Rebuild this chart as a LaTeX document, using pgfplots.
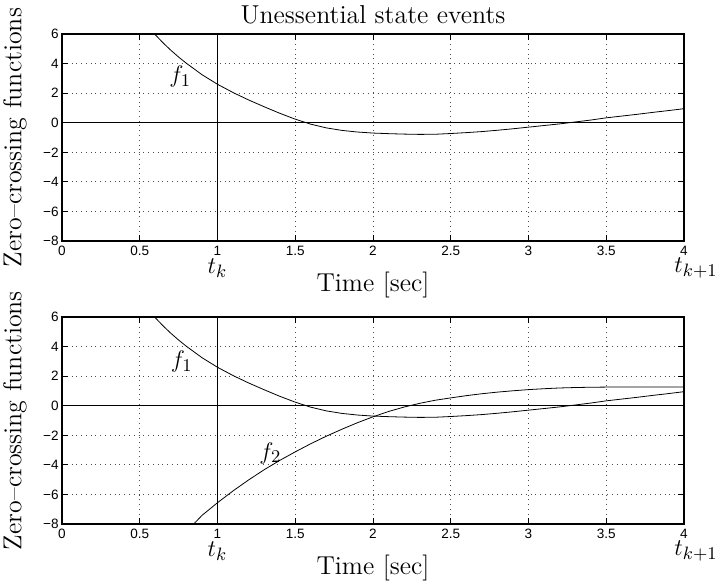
\documentclass[border=0pt]{standalone}
\usepackage{fontspec}
\usepackage{pgfplots}
\pgfplotsset{compat=1.18}
\newfontfamily\helv{Liberation Sans}
\newcommand\lab{\fontsize{13}{15}\selectfont}

\pgfplotstableread{
x y
0.58 6.20
0.60 5.95
0.65 5.40
0.70 4.90
0.75 4.44
0.80 4.02
0.90 3.25
1.00 2.60
1.10 2.04
1.20 1.54
1.30 1.08
1.40 0.64
1.50 0.24
1.60 -0.10
1.70 -0.35
1.80 -0.52
1.90 -0.63
2.00 -0.70
2.10 -0.74
2.20 -0.77
2.30 -0.79
2.40 -0.78
2.50 -0.73
2.60 -0.67
2.70 -0.60
2.80 -0.51
2.90 -0.41
3.00 -0.30
3.10 -0.19
3.20 -0.08
3.30 0.05
3.40 0.18
3.50 0.33
3.60 0.45
3.70 0.57
3.80 0.70
3.90 0.82
4.00 0.95
}\fone

\pgfplotstableread{
x y
0.84 -8.08
0.90 -7.42
1.00 -6.56
1.10 -5.76
1.20 -5.02
1.30 -4.33
1.40 -3.70
1.50 -3.12
1.60 -2.57
1.70 -2.06
1.80 -1.59
1.90 -1.15
2.00 -0.75
2.10 -0.39
2.20 -0.09
2.30 0.16
2.40 0.37
2.50 0.53
2.60 0.68
2.70 0.81
2.80 0.92
2.90 1.01
3.00 1.09
3.10 1.15
3.20 1.20
3.30 1.23
3.40 1.25
3.50 1.26
3.60 1.27
3.80 1.27
4.00 1.27
}\ftwo

\pgfplotsset{
  mystyle/.style={
    scale only axis, width=311bp, height=103.5bp,
    xmin=0, xmax=4, ymin=-8, ymax=6,
    xtick={0,0.5,1,1.5,2,2.5,3,3.5,4},
    ytick={-8,-6,-4,-2,0,2,4,6},
    xticklabels={0,0.5,1,1.5,2,2.5,3,3.5,4},
    yticklabels={−8,−6,−4,−2,0,2,4,6},
    tick align=inside, major tick length=3bp,
    xtick pos=both, ytick pos=both,
    tick style={black, line width=0.5bp},
    tick label style={font=\helv\fontsize{6.8}{8}\selectfont, inner sep=1.5bp},
    xticklabel style={yshift=-1bp},
    grid=major, grid style={dotted, black!70, line width=0.45bp},
    axis line style={line width=0.7bp},
    cycle list={{black, no markers, smooth, line width=0.55bp}},
    clip mode=individual,
  }
}

\begin{document}
\begin{tikzpicture}
\useasboundingbox (-31bp,17bp) rectangle (326.5bp,-274.5bp);
\begin{axis}[mystyle, at={(0,0)}, anchor=north west]
\addplot table[x=x,y=y] {\fone};
\addplot[black, line width=0.55bp] coordinates {(0,0) (4,0)};
\addplot[black, line width=0.55bp] coordinates {(1,-8) (1,6)};
\node at (axis cs:0.76,3.1) {\lab $f_1$};
\node at ([yshift=9.5bp]rel axis cs:0.5,1) {\lab Unessential state events};
\node[rotate=90] at ([xshift=-23.5bp]rel axis cs:0,0.5) {\lab Zero--crossing functions};
\node at ([yshift=-13.5bp]axis cs:1,-8) {\lab $t_k$};
\node at ([yshift=-13.5bp,xshift=6bp]axis cs:4,-8) {\lab $t_{k+1}$};
\node at ([yshift=-22bp]rel axis cs:0.5,0) {\lab Time [sec]};
\end{axis}
\begin{axis}[mystyle, at={(0,-141.5bp)}, anchor=north west]
\addplot table[x=x,y=y] {\fone};
\addplot table[x=x,y=y] {\ftwo};
\addplot[black, line width=0.55bp] coordinates {(0,0) (4,0)};
\addplot[black, line width=0.55bp] coordinates {(1,-8) (1,6)};
\node at (axis cs:0.77,2.98) {\lab $f_1$};
\node at (axis cs:1.34,-3.22) {\lab $f_2$};
\node[rotate=90] at ([xshift=-23.5bp]rel axis cs:0,0.5) {\lab Zero--crossing functions};
\node at ([yshift=-13.5bp]axis cs:1,-8) {\lab $t_k$};
\node at ([yshift=-13.5bp,xshift=6bp]axis cs:4,-8) {\lab $t_{k+1}$};
\node at ([yshift=-22bp]rel axis cs:0.5,0) {\lab Time [sec]};
\end{axis}
\end{tikzpicture}
\end{document}
